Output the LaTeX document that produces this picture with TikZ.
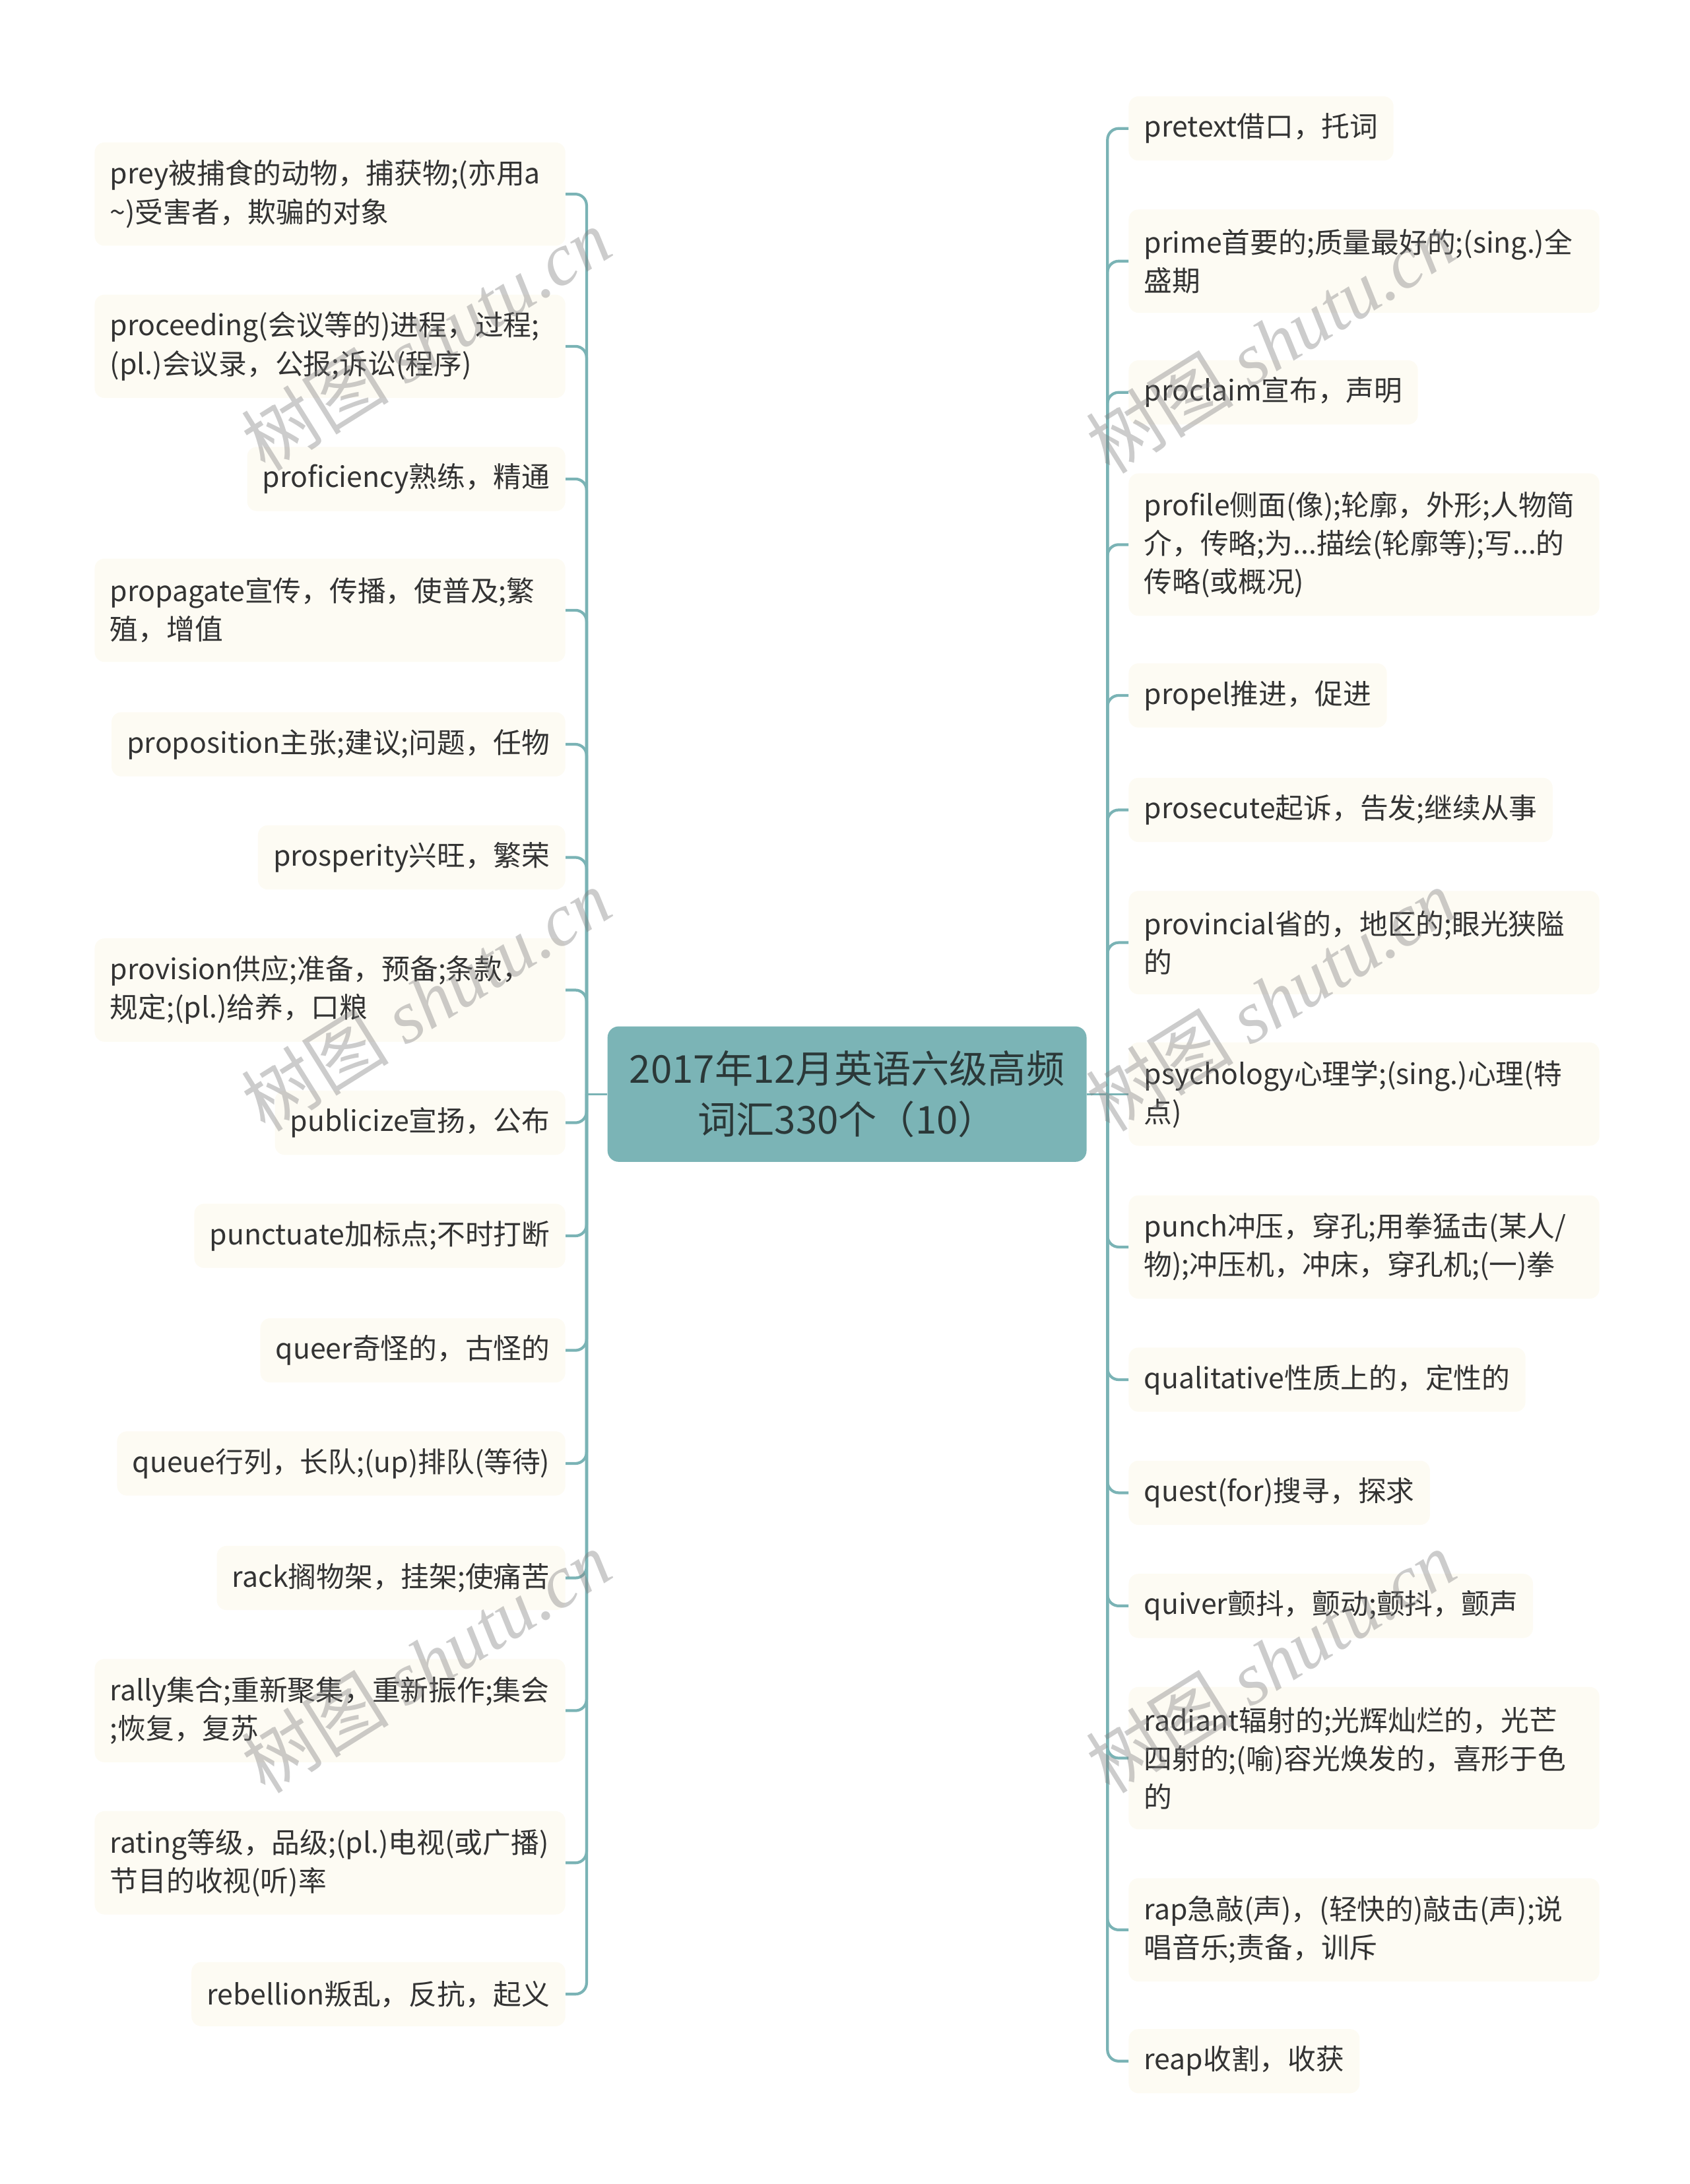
\documentclass[tikz,border=0pt]{standalone}
\usepackage{fontspec}
\setmainfont{Noto Sans CJK SC}
\newfontfamily\wmcjk{Noto Sans CJK SC}
\newfontfamily\wmlat{Liberation Serif}
\definecolor{lineteal}{HTML}{7AB3B5}
\definecolor{centerfill}{HTML}{7BB4B6}
\definecolor{leaffill}{HTML}{FDFBF3}
\definecolor{leaftext}{HTML}{333333}
\definecolor{centertext}{HTML}{2B3838}
\begin{document}
\begin{tikzpicture}[x=1pt,y=-1pt,
  conn/.style={draw=lineteal, line width=2pt, rounded corners=8pt},
  hub/.style={draw=lineteal, line width=1.5pt},
  leaf/.style={fill=leaffill, rounded corners=7pt, text=leaftext,
    font=\fontsize{20.2}{27.5}\selectfont, align=left, inner xsep=11pt, inner ysep=0pt},
  oneline/.style={minimum height=46pt},
  twoline/.style={minimum height=74pt, text width=315pt},
  threeline/.style={minimum height=102pt, text width=315pt},
  lleaf/.style={leaf, anchor=east},
  rleaf/.style={leaf, anchor=west},
  wm/.style={text=black!50, opacity=0.4, rotate=32, inner sep=0pt}
]
\useasboundingbox (0,0) rectangle (1210,1564);

% center
\node[fill=centerfill, rounded corners=8pt, minimum width=343pt, minimum height=97pt,
  align=center, text=centertext, font=\fontsize{27.5}{36}\selectfont, inner sep=0pt]
  (c) at (606.5,783.5) {2017年12月英语六级高频\\词汇330个（10）};

\coordinate (sl) at (420,783.5);
\coordinate (sr) at (793,783.5);

% left leaves
\node[lleaf,twoline] (l1) at (405,139) {prey被捕食的动物，捕获物;(亦用a\\\textasciitilde)受害者，欺骗的对象};
\node[lleaf,twoline] (l2) at (405,248) {proceeding(会议等的)进程，过程;\\(pl.)会议录，公报;诉讼(程序)};
\node[lleaf,oneline] (l3) at (405,343) {proficiency熟练，精通};
\node[lleaf,twoline] (l4) at (405,437) {propagate宣传，传播，使普及;繁\\殖，增值};
\node[lleaf,oneline] (l5) at (405,533) {proposition主张;建议;问题，任物};
\node[lleaf,oneline] (l6) at (405,614) {prosperity兴旺，繁荣};
\node[lleaf,twoline] (l7) at (405,709) {provision供应;准备，预备;条款，\\规定;(pl.)给养，口粮};
\node[lleaf,oneline] (l8) at (405,804) {publicize宣扬，公布};
\node[lleaf,oneline] (l9) at (405,885) {punctuate加标点;不时打断};
\node[lleaf,oneline] (l10) at (405,967) {queer奇怪的，古怪的};
\node[lleaf,oneline] (l11) at (405,1048) {queue行列，长队;(up)排队(等待)};
\node[lleaf,oneline] (l12) at (405,1130) {rack搁物架，挂架;使痛苦};
\node[lleaf,twoline] (l13) at (405,1225) {rally集合;重新聚集，重新振作;集会\\;恢复，复苏};
\node[lleaf,twoline] (l14) at (405,1334) {rating等级，品级;(pl.)电视(或广播)\\节目的收视(听)率};
\node[lleaf,oneline] (l15) at (405,1428) {rebellion叛乱，反抗，起义};

% right leaves
\node[rleaf,oneline] (r1) at (808,92) {pretext借口，托词};
\node[rleaf,twoline] (r2) at (808,187) {prime首要的;质量最好的;(sing.)全\\盛期};
\node[rleaf,oneline] (r3) at (808,281) {proclaim宣布，声明};
\node[rleaf,threeline] (r4) at (808,390) {profile侧面(像);轮廓，外形;人物简\\介，传略;为...描绘(轮廓等);写...的\\传略(或概况)};
\node[rleaf,oneline] (r5) at (808,498) {propel推进，促进};
\node[rleaf,oneline] (r6) at (808,580) {prosecute起诉，告发;继续从事};
\node[rleaf,twoline] (r7) at (808,675) {provincial省的，地区的;眼光狭隘\\的};
\node[rleaf,twoline] (r8) at (808,783.5) {psychology心理学;(sing.)心理(特\\点)};
\node[rleaf,twoline] (r9) at (808,893) {punch冲压，穿孔;用拳猛击(某人/\\物);冲压机，冲床，穿孔机;(一)拳};
\node[rleaf,oneline] (r10) at (808,988) {qualitative性质上的，定性的};
\node[rleaf,oneline] (r11) at (808,1069) {quest(for)搜寻，探求};
\node[rleaf,oneline] (r12) at (808,1150) {quiver颤抖，颤动;颤抖，颤声};
\node[rleaf,threeline] (r13) at (808,1259) {radiant辐射的;光辉灿烂的，光芒\\四射的;(喻)容光焕发的，喜形于色\\的};
\node[rleaf,twoline] (r14) at (808,1382) {rap急敲(声)，(轻快的)敲击(声);说\\唱音乐;责备，训斥};
\node[rleaf,oneline] (r15) at (808,1476) {reap收割，收获};

% connectors
\draw[hub] (c.west) -- (sl);
\draw[hub] (c.east) -- (r8.west);
\foreach \n in {l1,l2,l3,l4,l5,l6,l7,l8,l9,l10,l11,l12,l13,l14,l15}
  \draw[conn] (sl) -- (sl |- \n.east) -- (\n.east);
\foreach \n in {r1,r2,r3,r4,r5,r6,r7,r9,r10,r11,r12,r13,r14,r15}
  \draw[conn] (sr) -- (sr |- \n.west) -- (\n.west);

% watermarks
\node[wm] (w1) at (305,243) {\fontsize{53}{53}\selectfont\wmcjk 树图 \wmlat\itshape shutu.cn};
\node[wm] (w2) at (305,716) {\fontsize{53}{53}\selectfont\wmcjk 树图 \wmlat\itshape shutu.cn};
\node[wm] (w3) at (305,1190) {\fontsize{53}{53}\selectfont\wmcjk 树图 \wmlat\itshape shutu.cn};
\node[wm] (w4) at (910,245) {\fontsize{53}{53}\selectfont\wmcjk 树图 \wmlat\itshape shutu.cn};
\node[wm] (w5) at (910,716) {\fontsize{53}{53}\selectfont\wmcjk 树图 \wmlat\itshape shutu.cn};
\node[wm] (w6) at (910,1190) {\fontsize{53}{53}\selectfont\wmcjk 树图 \wmlat\itshape shutu.cn};
\end{tikzpicture}
\end{document}
